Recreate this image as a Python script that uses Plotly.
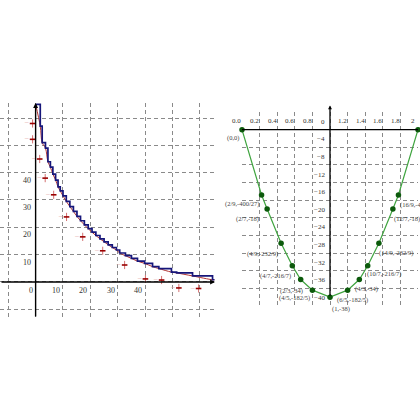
import plotly.graph_objects as go

# ---------------- left panel data ----------------
step_x = [0, 1.7, 2.4, 3.6, 4.5, 5.4, 6.3, 7.3, 8.2, 9.0, 10.0, 11.2, 12.5, 13.8, 15.1,
          16.4, 17.8, 19.2, 20.6, 22.0, 23.5, 25.0, 26.5, 28.0, 29.5, 30.7, 32.8, 35.0,
          37.2, 39.8, 42.7, 45.0, 49.6, 51.5, 57.3, 64.6, 65.3]
step_y = [65, 57, 51, 49, 44, 42, 39.5, 37.3, 34.8, 33.3, 31.5, 29.5, 27.6, 25.8, 24.0,
          22.4, 20.9, 19.5, 18.2, 17.0, 15.8, 14.7, 13.6, 12.6, 11.7, 10.6, 9.6, 8.6,
          7.6, 6.8, 5.6, 4.9, 3.6, 3.3, 2.2, 0.8, 0.8]
red_x = [-1.1, -1.1, 1.5, 3.5, 6.6, 11.3, 17.2, 24.5, 32.5, 40.1, 46.0, 52.3, 59.5]
red_y = [58, 52.2, 45, 38, 31.9, 23.8, 16.5, 11.4, 6.2, 1.1, 0.7, -2.2, -2.4]
red_err = [1.5] * len(red_x)
left_xticks = [0, 10, 20, 30, 40]
left_yticks = [10, 20, 30, 40]

# ---------------- right panel data ----------------
g_x = [0, 2/9, 2/7, 4/9, 4/7, 2/3, 4/5, 1, 6/5, 4/3, 10/7, 14/9, 12/7, 16/9, 2]
g_y = [0, -400/27, -18, -232/9, -216/7, -34, -182/5, -38, -182/5, -34, -216/7,
       -232/9, -18, -400/27, 0]
g_labels = ["(0,0)", "(2/9,-400/27)", "(2/7,-18)", "(4/9,-232/9)", "(4/7,-216/7)",
            "(2/3,-34)", "(4/5,-182/5)", "(1,-38)", "(6/5,-182/5)", "(4/3,-34)",
            "(10/7,-216/7)", "(14/9,-232/9)", "(12/7,-18)", "(16/9,-400/27)", ""]
right_xticks = [0, 0.2, 0.4, 0.6, 0.8, 1.2, 1.4, 1.6, 1.8, 2]
right_xlabels = ["0.0", "0.2", "0.4", "0.6", "0.8", "1.2", "1.4", "1.6", "1.8", "2"]
right_yticks = [0, -4, -8, -12, -16, -20, -24, -28, -32, -36, -40]

lab_anchor = ["right", "right", "right", "right", "right", "right", "right", "left",
              "center", "left", "left", "left", "left", "left", "left"]
lab_dx = [-1, -1, -6, -1, 1, 4, 0, 0, 5, -6, -3, -2, -1, 0, 0]
lab_dy = [-2, -3, -4, -5, -4, -5, -2, -6, -4, -3, -2, -4, -4, -4, -4]

FONT = "Liberation Serif"
TXT = "#333333"
GRID = "#8a8a8a"

fig = go.Figure()

fig.add_trace(go.Scatter(x=step_x, y=step_y, mode="lines", xaxis="x", yaxis="y",
                         line=dict(shape="spline", color="#b03434", width=1),
                         hoverinfo="skip", showlegend=False))
fig.add_trace(go.Scatter(x=step_x, y=step_y, mode="lines", xaxis="x", yaxis="y",
                         line=dict(shape="hv", color="#16167a", width=1.7),
                         hoverinfo="skip", showlegend=False))
fig.add_trace(go.Scatter(x=red_x, y=red_y, mode="markers+text", xaxis="x", yaxis="y",
                         marker=dict(symbol="line-ew", size=4, color="#9a0000",
                                     line=dict(color="#9a0000", width=1.6)),
                         error_y=dict(type="data", array=red_err, color="#d47272",
                                      thickness=1, width=0),
                         text=["−"] * len(red_x), textposition="middle left",
                         textfont=dict(color="#e3a8a8", size=8, family=FONT),
                         cliponaxis=False, hoverinfo="skip", showlegend=False))

fig.add_trace(go.Scatter(x=g_x, y=g_y, mode="lines+markers", xaxis="x2", yaxis="y2",
                         line=dict(color="#3fa43f", width=1.2),
                         marker=dict(color="#0c5a0c", size=5.5),
                         cliponaxis=False, hoverinfo="skip", showlegend=False))

shapes = [
    dict(type="line", xref="x2", yref="y2", x0=0, x1=2, y0=0, y1=0,
         line=dict(color="black", width=1.4)),
]
ann = []
ann.append(dict(x=65.5, y=0, ax=-13, ay=0, xref="x", yref="y", axref="x", ayref="y",
                showarrow=True, arrowhead=2, arrowsize=0.7, arrowwidth=1.4,
                arrowcolor="black", text=""))
ann.append(dict(x=0, y=65.5, ax=0, ay=-13.2, xref="x", yref="y", axref="x", ayref="y",
                showarrow=True, arrowhead=2, arrowsize=0.7, arrowwidth=1.4,
                arrowcolor="black", text=""))
ann.append(dict(x=1, y=5.5, ax=1, ay=-38, xref="x2", yref="y2", axref="x2", ayref="y2",
                showarrow=True, arrowhead=2, arrowsize=0.6, arrowwidth=1.3,
                arrowcolor="black", text=""))

for v in left_xticks:
    ann.append(dict(x=v, y=0, xref="x", yref="y", text=str(v), showarrow=False,
                    xanchor="right", yanchor="top", xshift=-1, yshift=-2,
                    font=dict(family=FONT, size=8, color=TXT)))
for v in left_yticks:
    ann.append(dict(x=0, y=v, xref="x", yref="y", text=str(v), showarrow=False,
                    xanchor="right", yanchor="top", xshift=-3, yshift=-1,
                    font=dict(family=FONT, size=8, color=TXT)))
for v, t in zip(right_xticks, right_xlabels):
    ann.append(dict(x=v, y=0, xref="x2", yref="y2", text=t, showarrow=False,
                    xanchor="center", yanchor="bottom", xshift=-5, yshift=3,
                    font=dict(family=FONT, size=7, color=TXT)))
for v in right_yticks:
    ann.append(dict(x=1, y=v, xref="x2", yref="y2", text=str(v).replace("-", "−"),
                    showarrow=False, xanchor="right", yanchor="bottom", xshift=-3, yshift=2,
                    font=dict(family=FONT, size=7, color=TXT)))
for xv, yv, t, a, dx, dy in zip(g_x, g_y, g_labels, lab_anchor, lab_dx, lab_dy):
    if not t:
        continue
    ann.append(dict(x=xv, y=yv, xref="x2", yref="y2", text=t, showarrow=False,
                    xanchor=a, yanchor="top", xshift=dx, yshift=dy,
                    font=dict(family=FONT, size=6.5, color="#444444")))

grid_common = dict(showgrid=True, gridcolor=GRID, griddash="4px,3px", gridwidth=1,
                   zeroline=False, showline=False, showticklabels=False, ticks="")

fig.update_layout(
    width=420, height=420, margin=dict(l=0, r=0, t=0, b=0),
    paper_bgcolor="white", plot_bgcolor="white", showlegend=False,
    xaxis=dict(domain=[0, 215/420], range=[-13, 65.5],
               tickvals=[-10, 0, 10, 20, 30, 40, 50, 60], **grid_common),
    yaxis=dict(domain=[102/420, 317/420], range=[-13.2, 65.5],
               tickvals=[-10, 0, 10, 20, 30, 40, 50, 60], **grid_common),
    xaxis2=dict(domain=[242/420, 418/420], range=[0, 2], anchor="y2",
                tickvals=[0, 0.2, 0.4, 0.6, 0.8, 1.0, 1.2, 1.4, 1.6, 1.8, 2.0], **grid_common),
    yaxis2=dict(domain=[114/420, 308/420], range=[-40, 4], anchor="x2",
                tickvals=[4, 0, -4, -8, -12, -16, -20, -24, -28, -32, -36, -40], **grid_common),
    shapes=shapes, annotations=ann,
)

fig.write_html("out.html", config={"displayModeBar": False},
               post_script="document.body.style.margin='0px';")
